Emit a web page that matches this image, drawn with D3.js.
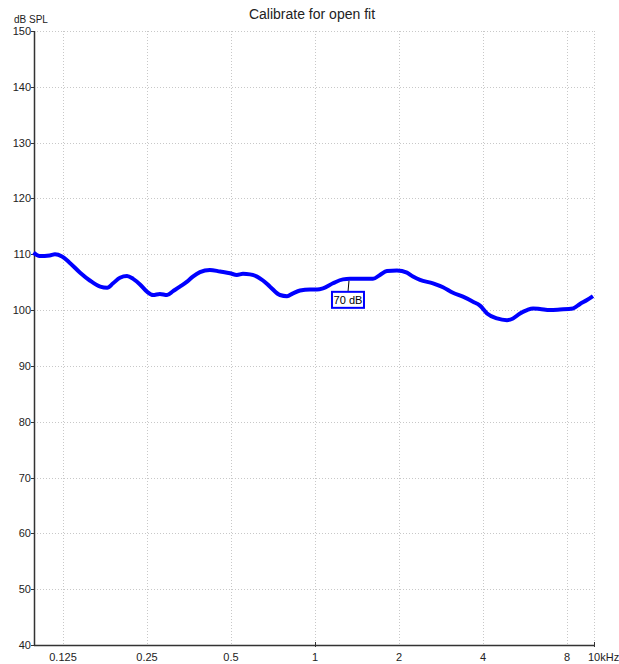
<!DOCTYPE html>
<html>
<head>
<meta charset="utf-8">
<script src="https://cdn.jsdelivr.net/npm/d3@7"></script>
<style>
  body { margin: 0; background: #fff; }
  text { font-family: "Liberation Sans", Arial, sans-serif; }
</style>
</head>
<body>
<script>
// Frequencies (Hz) and levels (dB SPL)
var freqs = [98, 103, 112, 117, 124, 132, 144, 156, 170, 180, 189, 200, 212, 223, 236, 250, 263, 278, 295, 310,
  328, 348, 365, 387, 420, 457, 496, 525, 552, 585, 620, 651, 690, 749, 794, 834, 884, 960, 1017, 1068,
  1160, 1260, 1335, 1614, 1710, 1812, 1967, 2136, 2245, 2379, 2648, 2876, 3123, 3392, 3685, 3903, 4136, 4491, 4878, 5125,
  5430, 5753, 6045, 6404, 6955, 7553, 8409, 8908, 9438, 9917];
var levels = [110.3, 109.7, 109.8, 110.0, 109.6, 108.5, 106.7, 105.3, 104.2, 104.0, 104.8, 105.8, 106.1, 105.6, 104.6, 103.3, 102.7, 102.9, 102.7, 103.4,
  104.2, 105.1, 106.0, 106.8, 107.2, 106.9, 106.6, 106.3, 106.5, 106.4, 106.0, 105.3, 104.2, 102.7, 102.5, 103.0, 103.5, 103.7, 103.7, 103.9,
  104.8, 105.5, 105.6, 105.6, 106.3, 107.0, 107.1, 106.7, 106.0, 105.4, 104.8, 104.1, 103.1, 102.4, 101.5, 100.8, 99.4, 98.5, 98.2, 98.5,
  99.4, 100.0, 100.3, 100.2, 100.0, 100.1, 100.3, 101.1, 101.8, 102.5];

var xTicks = [125, 250, 500, 1000, 2000, 4000, 8000];
var xTickLabels = ["0.125", "0.25", "0.5", "1", "2", "4", "8"];
var yTicks = [40, 50, 60, 70, 80, 90, 100, 110, 120, 130, 140, 150];

var labelFreq = 1324;
var labelText = "70 dB";

var width = 619, height = 664;
var margin = {left: 34, right: 25, top: 31, bottom: 19};

var svg = d3.select("body").append("svg")
    .attr("width", width)
    .attr("height", height);

var x = d3.scaleLog().domain([98.4, 10000]).range([margin.left, width - margin.right]);
var y = d3.scaleLinear().domain([40, 150]).range([height - margin.bottom, margin.top]);

// Grid
svg.append("g").selectAll("line.vgrid")
    .data(xTicks.concat([10000]))
    .enter().append("line")
    .attr("x1", function(d) { return Math.round(x(d)) + 0.5; })
    .attr("x2", function(d) { return Math.round(x(d)) + 0.5; })
    .attr("y1", y(150))
    .attr("y2", y(40))
    .attr("stroke", "#c8c8c8")
    .attr("stroke-dasharray", "1,2");

svg.append("g").selectAll("line.hgrid")
    .data(yTicks.slice(1))
    .enter().append("line")
    .attr("x1", x(98.4))
    .attr("x2", x(10000))
    .attr("y1", function(d) { return Math.round(y(d)) + 0.5; })
    .attr("y2", function(d) { return Math.round(y(d)) + 0.5; })
    .attr("stroke", "#c8c8c8")
    .attr("stroke-dasharray", "1,2");

// Axes lines
svg.append("line")
    .attr("x1", Math.round(x(98.4)) + 0.5).attr("x2", Math.round(x(98.4)) + 0.5)
    .attr("y1", y(150)).attr("y2", y(40))
    .attr("stroke", "#333").attr("stroke-width", 1.5);
svg.append("line")
    .attr("x1", x(98.4)).attr("x2", x(10000))
    .attr("y1", Math.round(y(40)) + 0.5).attr("y2", Math.round(y(40)) + 0.5)
    .attr("stroke", "#333").attr("stroke-width", 1.5);

// small tick marks at 1k and 10k
svg.selectAll("line.xt")
    .data([1000, 10000])
    .enter().append("line")
    .attr("x1", function(d) { return Math.round(x(d)) + 0.5; })
    .attr("x2", function(d) { return Math.round(x(d)) + 0.5; })
    .attr("y1", y(40) - 3)
    .attr("y2", y(40) + 2)
    .attr("stroke", "#333");

// Y tick labels
svg.append("g").selectAll("text")
    .data(yTicks)
    .enter().append("text")
    .attr("x", 31)
    .attr("y", function(d) { return y(d) + 4; })
    .attr("text-anchor", "end")
    .attr("font-size", 11)
    .attr("fill", "#222")
    .text(function(d) { return d; });

svg.selectAll("line.yt")
    .data(yTicks)
    .enter().append("line")
    .attr("x1", 31).attr("x2", 34)
    .attr("y1", function(d) { return Math.round(y(d)) + 0.5; })
    .attr("y2", function(d) { return Math.round(y(d)) + 0.5; })
    .attr("stroke", "#333");

// X tick labels
svg.append("g").selectAll("text")
    .data(xTicks)
    .enter().append("text")
    .attr("x", function(d) { return x(d); })
    .attr("y", 661)
    .attr("text-anchor", "middle")
    .attr("font-size", 11)
    .attr("fill", "#222")
    .text(function(d, i) { return xTickLabels[i]; });

svg.append("text")
    .attr("x", x(10000) - 6)
    .attr("y", 661)
    .attr("font-size", 11)
    .attr("fill", "#222")
    .text("10kHz");

// Title and unit
svg.append("text")
    .attr("x", 312)
    .attr("y", 19)
    .attr("text-anchor", "middle")
    .attr("font-size", 14)
    .attr("fill", "#222")
    .text("Calibrate for open fit");

svg.append("text")
    .attr("x", 14)
    .attr("y", 23)
    .attr("font-size", 10)
    .attr("fill", "#222")
    .text("dB SPL");

// Curve
var data = freqs.map(function(f, i) { return {f: f, v: levels[i]}; });
var line = d3.line()
    .x(function(d) { return x(d.f); })
    .y(function(d) { return y(d.v); })
    .curve(d3.curveMonotoneX);

svg.append("path")
    .datum(data)
    .attr("d", line)
    .attr("fill", "none")
    .attr("stroke", "#0000ff")
    .attr("stroke-width", 4)
    .attr("stroke-linejoin", "round");

// "70 dB" label with leader
var lx = x(labelFreq);
var ly = y(105.6);
svg.append("line")
    .attr("x1", lx).attr("x2", lx - 1)
    .attr("y1", ly + 2).attr("y2", ly + 13)
    .attr("stroke", "#000");
svg.append("rect")
    .attr("x", lx - 17)
    .attr("y", ly + 13)
    .attr("width", 32)
    .attr("height", 16)
    .attr("fill", "#fff")
    .attr("stroke", "#0000ff")
    .attr("stroke-width", 2);
svg.append("text")
    .attr("x", lx - 1)
    .attr("y", ly + 25)
    .attr("text-anchor", "middle")
    .attr("font-size", 11)
    .attr("fill", "#000")
    .text(labelText);
</script>
</body>
</html>
